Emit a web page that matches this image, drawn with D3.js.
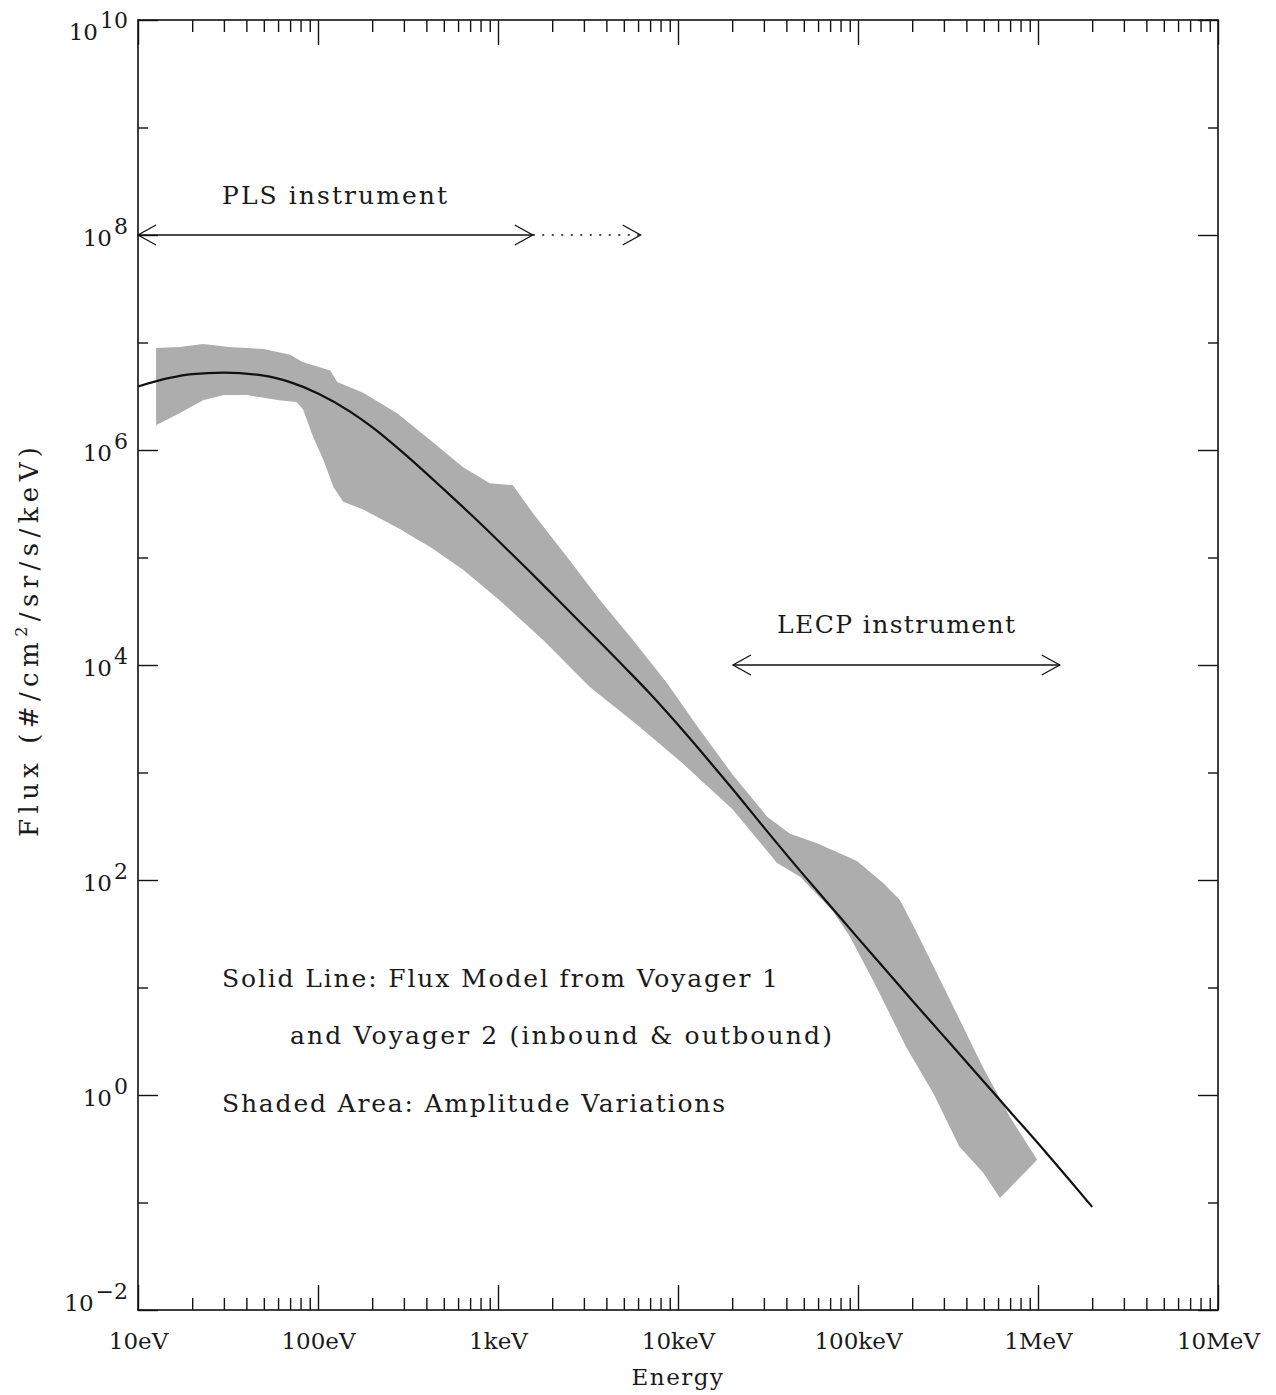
<!DOCTYPE html>
<html>
<head>
<meta charset="utf-8">
<script src="https://cdn.jsdelivr.net/npm/d3@7"></script>
<style>
  body { margin: 0; background: #fff; }
  text { font-family: "DejaVu Serif", serif; fill: #1a1a1a; }
</style>
</head>
<body>
<script>
// Energies in eV, flux in #/cm2/sr/s/keV

// solid line: flux model
const modelEnergy = [10, 15, 20, 30, 50, 70, 100, 150, 200, 300, 500, 700, 1e3, 1.5e3, 2e3, 3e3, 5e3, 7e3,
  1e4, 1.5e4, 2e4, 3e4, 5e4, 7e4, 1e5, 1.5e5, 2e5, 3e5, 5e5, 7e5, 1e6, 1.5e6, 2e6];
const modelFlux = [3.9e6, 4.68e6, 5.07e6, 5.24e6, 4.92e6, 4.28e6, 3.36e6, 2.29e6, 1.63e6, 9.3e5, 4.3e5,
  2.55e5, 1.44e5, 7.4e4, 4.57e4, 2.31e4, 9.7e3, 5.4e3, 2.78e3, 1.26e3, 710, 309, 111, 57.7, 28.8, 13.2,
  7.57, 3.51, 1.33, 0.70, 0.356, 0.161, 0.091];

// shaded area: upper edge
const upperEnergy = [12.6, 17, 23, 32, 50, 70, 82, 117, 128, 178, 275, 420, 640, 900, 1210, 1560, 2420,
  3690, 5620, 8680, 1.32e4, 2.02e4, 3.12e4, 4.19e4, 5.92e4, 9.87e4, 1.38e5, 1.71e5, 2.13e5, 3.24e5,
  4.95e5, 7.0e5, 9.9e5];
const upperFlux = [8.9e6, 9.1e6, 9.7e6, 9.1e6, 8.7e6, 7.7e6, 6.6e6, 5.5e6, 4.3e6, 3.4e6, 2.2e6, 1.24e6,
  6.9e5, 4.9e5, 4.7e5, 2.6e5, 1.01e5, 4.0e4, 1.71e4, 6.8e3, 2.5e3, 950, 390, 270, 220, 150, 94, 65, 32,
  7.7, 1.8, 0.62, 0.25];

// shaded area: lower edge
const lowerEnergy = [12.6, 17, 23, 30, 40, 61, 76, 82.5, 94, 107, 122, 138, 178, 275, 420, 640, 1020, 1780,
  3250, 5900, 1.06e4, 2.02e4, 3.55e4, 4.77e4, 7.2e4, 9.0e4, 1.27e5, 1.85e5, 2.62e5, 3.66e5, 4.95e5, 6.15e5];
const lowerFlux = [1.7e6, 2.2e6, 2.9e6, 3.25e6, 3.25e6, 2.9e6, 2.8e6, 2.4e6, 1.32e6, 8.1e5, 4.5e5, 3.3e5,
  2.8e5, 1.9e5, 1.25e5, 7.7e4, 4.0e4, 1.71e4, 6.2e3, 2.8e3, 1.22e3, 450, 144, 107, 52, 30, 10, 2.8, 1.04,
  0.33, 0.19, 0.11];

// instrument ranges (eV)
const plsRange = [10, 1560];
const plsExtended = [1560, 6200];
const lecpRange = [2.02e4, 1.32e6];

// tick labels
const xTickValues = [10, 100, 1e3, 1e4, 1e5, 1e6, 1e7];
const xTickLabels = ["10eV", "100eV", "1keV", "10keV", "100keV", "1MeV", "10MeV"];
const yLabelExponents = ["10", "8", "6", "4", "2", "0", "\u22122"];
const yLabelValues = [1e10, 1e8, 1e6, 1e4, 1e2, 1e0, 1e-2];
const yOddValues = [1e9, 1e7, 1e5, 1e3, 1e1, 1e-1];

const W = 1276, H = 1395;
const margin = { top: 20, right: 58, bottom: 85, left: 138 };

const svg = d3.select("body").append("svg")
    .attr("width", W)
    .attr("height", H);

const x = d3.scaleLog().domain([10, 1e7]).range([margin.left, W - margin.right]);
const y = d3.scaleLog().domain([1e-2, 1e10]).range([H - margin.bottom, margin.top]);

// shaded band: upper edge then lower edge backwards
const upperPts = upperEnergy.map((e, i) => [e, upperFlux[i]]);
const lowerPts = lowerEnergy.map((e, i) => [e, lowerFlux[i]]);
const bandPts = upperPts.concat(lowerPts.slice().reverse());

const lineGen = d3.line()
    .x(d => x(d[0]))
    .y(d => y(d[1]));

svg.append("path")
    .attr("d", lineGen(bandPts) + "Z")
    .attr("fill", "#adadad")
    .attr("stroke", "none");

// model curve
const modelPts = modelEnergy.map((e, i) => [e, modelFlux[i]]);
const curveGen = d3.line()
    .x(d => x(d[0]))
    .y(d => y(d[1]))
    .curve(d3.curveMonotoneX);
svg.append("path")
    .attr("d", curveGen(modelPts))
    .attr("fill", "none")
    .attr("stroke", "#111")
    .attr("stroke-width", 2.2);

// axes
const minorX = [];
xTickValues.slice(0, -1).forEach(d => { for (let k = 2; k < 10; k++) minorX.push(d * k); });

function styleAxis(g) {
  g.select(".domain").remove();
  g.selectAll(".tick line").attr("stroke", "#111").attr("stroke-width", 1.4);
}

svg.append("g")
    .attr("transform", `translate(0,${y.range()[0]})`)
    .call(d3.axisBottom(x).tickValues(minorX).tickSize(-12).tickFormat(""))
    .call(styleAxis);

svg.append("g")
    .attr("transform", `translate(0,${y.range()[0]})`)
    .call(d3.axisBottom(x).tickValues(xTickValues).tickSize(-25).tickPadding(23)
      .tickFormat((d, i) => xTickLabels[i]))
    .call(styleAxis)
    .call(g => g.selectAll(".tick text")
      .attr("font-size", 23).attr("font-family", "DejaVu Serif").attr("fill", "#1a1a1a"));

svg.append("g")
    .attr("transform", `translate(0,${y.range()[1]})`)
    .call(d3.axisTop(x).tickValues(minorX).tickSize(-12).tickFormat(""))
    .call(styleAxis);

svg.append("g")
    .attr("transform", `translate(0,${y.range()[1]})`)
    .call(d3.axisTop(x).tickValues(xTickValues).tickSize(-25).tickFormat(""))
    .call(styleAxis);

svg.append("g")
    .attr("transform", `translate(${x.range()[0]},0)`)
    .call(d3.axisLeft(y).tickValues(yOddValues).tickSize(-10).tickFormat(""))
    .call(styleAxis);

const yLeft = svg.append("g")
    .attr("transform", `translate(${x.range()[0]},0)`)
    .call(d3.axisLeft(y).tickValues(yLabelValues).tickSize(-20).tickPadding(10).tickFormat(""))
    .call(styleAxis);

svg.append("g")
    .attr("transform", `translate(${x.range()[1]},0)`)
    .call(d3.axisRight(y).tickValues(yOddValues).tickSize(-10).tickFormat(""))
    .call(styleAxis);

svg.append("g")
    .attr("transform", `translate(${x.range()[1]},0)`)
    .call(d3.axisRight(y).tickValues(yLabelValues).tickSize(-20).tickFormat(""))
    .call(styleAxis);

// y tick labels as 10 with a raised exponent
yLeft.selectAll(".tick text").each(function(d, i) {
  const t = d3.select(this)
      .attr("x", -10)
      .attr("dy", null)
      .attr("y", i === 0 ? 19 : (i === yLabelValues.length - 1 ? 0 : 10))
      .attr("font-size", 23)
      .attr("font-family", "DejaVu Serif")
      .attr("fill", "#1a1a1a")
      .attr("text-anchor", "end");
  t.text(null);
  t.append("tspan").text("10");
  t.append("tspan").attr("dy", -12).attr("dx", 2).attr("font-size", 22).text(yLabelExponents[i]);
});

// frame
svg.append("rect")
    .attr("x", x.range()[0]).attr("y", y.range()[1])
    .attr("width", x.range()[1] - x.range()[0])
    .attr("height", y.range()[0] - y.range()[1])
    .attr("fill", "none")
    .attr("stroke", "#111")
    .attr("stroke-width", 1.6);

// axis titles
svg.append("text")
    .attr("x", x(1e4)).attr("y", 1385)
    .attr("text-anchor", "middle")
    .attr("font-size", 23)
    .attr("letter-spacing", 1.5)
    .text("Energy");

const yTitle = svg.append("text")
    .attr("transform", "translate(38,642) rotate(-90)")
    .attr("text-anchor", "middle")
    .attr("font-size", 26)
    .attr("textLength", 390)
    .attr("lengthAdjust", "spacing");
yTitle.append("tspan").text("Flux (#/cm");
yTitle.append("tspan").attr("dy", -11).attr("font-size", 16).text("2");
yTitle.append("tspan").attr("dy", 11).text("/sr/s/keV)");

// instrument arrows
function chevron(px, py, dir) {
  return `M${px - dir * 18},${py - 10}L${px},${py}L${px - dir * 18},${py + 10}`;
}
function drawArrow(range, fy, dashed, leftHead) {
  const x0 = x(range[0]), x1 = x(range[1]), yy = y(fy);
  svg.append("line")
      .attr("x1", x0).attr("x2", x1).attr("y1", yy).attr("y2", yy)
      .attr("stroke", "#111").attr("stroke-width", 1.3)
      .attr("stroke-dasharray", dashed ? "2,7.5" : null);
  svg.append("path").attr("d", chevron(x1, yy, 1))
      .attr("fill", "none").attr("stroke", "#111").attr("stroke-width", 1.3);
  if (leftHead) {
    svg.append("path").attr("d", chevron(x0, yy, -1))
        .attr("fill", "none").attr("stroke", "#111").attr("stroke-width", 1.3);
  }
}
drawArrow(plsRange, 1e8, false, true);
drawArrow(plsExtended, 1e8, true, false);
drawArrow(lecpRange, 1e4, false, true);

// annotation texts
const notes = [
  { text: "PLS instrument", x: 222, y: 204, len: 225 },
  { text: "LECP instrument", x: 777, y: 633, len: 238 },
  { text: "Solid Line: Flux Model from Voyager 1", x: 222, y: 987, len: 556 },
  { text: "and Voyager 2 (inbound & outbound)", x: 290, y: 1044, len: 542 },
  { text: "Shaded Area: Amplitude Variations", x: 222, y: 1112, len: 503 }
];
svg.selectAll("text.note")
  .data(notes)
  .enter()
  .append("text")
    .attr("class", "note")
    .attr("x", d => d.x)
    .attr("y", d => d.y)
    .attr("font-size", 25)
    .attr("textLength", d => d.len)
    .attr("lengthAdjust", "spacing")
    .text(d => d.text);
</script>
</body>
</html>
